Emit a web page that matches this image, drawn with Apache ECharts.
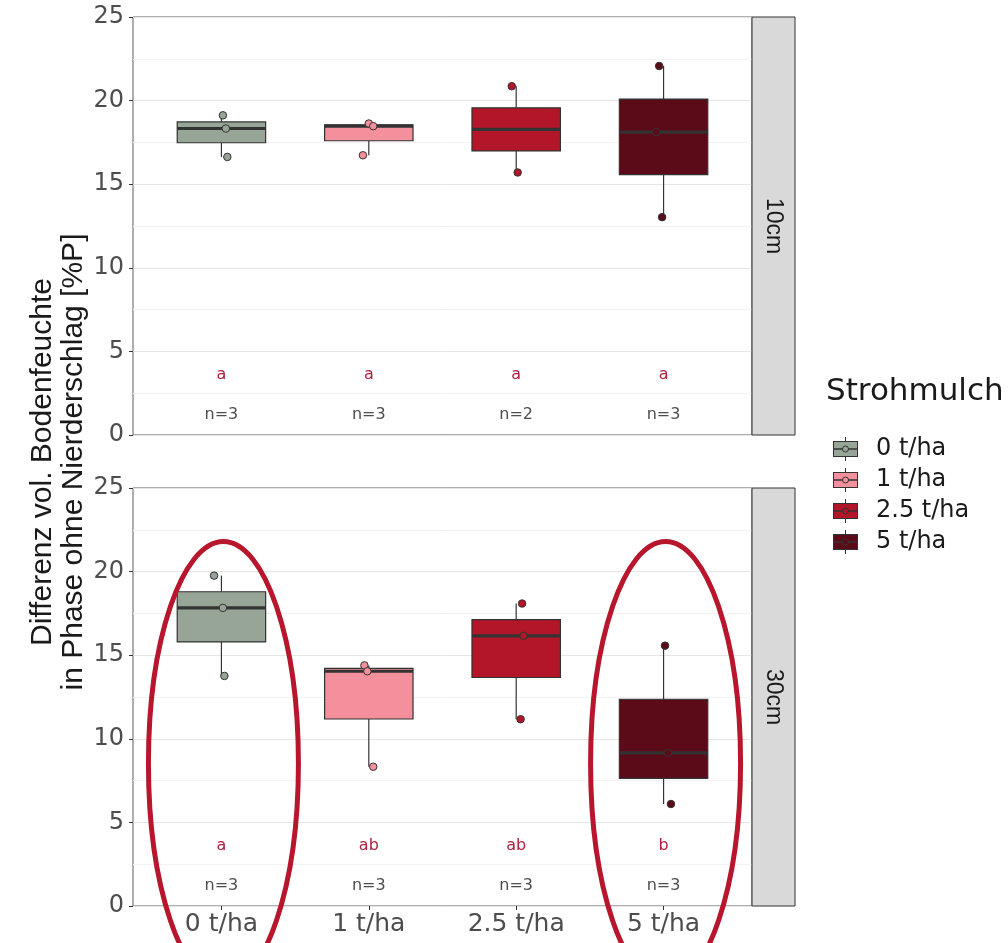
<!DOCTYPE html>
<html>
<head>
<meta charset="utf-8">
<title>Strohmulch Bodenfeuchte</title>
<script src="https://cdn.jsdelivr.net/npm/echarts@6/dist/echarts.min.js"></script>
<style>
html, body { margin: 0; padding: 0; background: #fff; }
#chart { width: 1008px; height: 943px; }
</style>
</head>
<body>
<div id="chart"></div>
<script>
// Varianten Strohmulch
var categories = ['0 t/ha', '1 t/ha', '2.5 t/ha', '5 t/ha'];
var colors = ['#97a596', '#f3909c', '#b31529', '#5b0b17'];
var depths = ['10cm', '30cm'];

// Einzelwerte je Variante (Differenz vol. Bodenfeuchte, %P) - 10 cm
var vals10 = [
    [19.12, 18.33, 16.63],
    [18.63, 18.47, 16.73],
    [20.86, 15.70],
    [22.07, 18.11, 13.03]
];
// 30 cm
var vals30 = [
    [19.76, 17.83, 13.76],
    [14.39, 14.04, 8.33],
    [18.09, 16.16, 11.17],
    [15.57, 9.16, 6.10]
];
// Jitter der Punkte (in Kategorie-Einheiten)
var jitter10 = [[0.01, 0.03, 0.04], [0.0, 0.03, -0.04], [-0.03, 0.01], [-0.03, -0.05, -0.01]];
var jitter30 = [[-0.05, 0.01, 0.02], [-0.03, -0.01, 0.03], [0.04, 0.05, 0.03], [0.01, 0.03, 0.05]];
// Signifikanzbuchstaben
var letters10 = ['a', 'a', 'a', 'a'];
var letters30 = ['a', 'ab', 'ab', 'b'];
// markierte Varianten (rote Ellipsen im unteren Panel)
var marked = [0, 3];

var panels = [
    { vals: vals10, jit: jitter10, letters: letters10 },
    { vals: vals30, jit: jitter30, letters: letters30 }
];

function quantile(arr, p) {
    var s = arr.slice().sort(function (a, b) { return a - b; });
    var h = (s.length - 1) * p;
    var lo = Math.floor(h);
    var nx = lo + 1 < s.length ? s[lo + 1] : s[lo];
    return s[lo] + (h - lo) * (nx - s[lo]);
}

function keyIcon(c) {
    var svg = '<svg xmlns="http://www.w3.org/2000/svg" width="38" height="24">' +
        '<line x1="12.5" y1="0" x2="12.5" y2="24" stroke="#333" stroke-width="1"/>' +
        '<rect x="0.5" y="4.5" width="24" height="15" fill="' + c + '" stroke="#333" stroke-width="1"/>' +
        '<line x1="0.5" y1="12" x2="24.5" y2="12" stroke="#333" stroke-width="1.5"/>' +
        '<circle cx="12.5" cy="12" r="3" fill="' + c + '" stroke="#333" stroke-width="1"/>' +
        '</svg>';
    return 'image://data:image/svg+xml;charset=utf-8,' + encodeURIComponent(svg);
}

function renderBox(params, api) {
    var x = api.value(0);
    var lo = api.coord([x, api.value(1)]);
    var q1 = api.coord([x, api.value(2)]);
    var md = api.coord([x, api.value(3)]);
    var q3 = api.coord([x, api.value(4)]);
    var hi = api.coord([x, api.value(5)]);
    var w = api.size([0.6, 0])[0];
    var fill = api.visual('color');
    var cx = lo[0];
    return {
        type: 'group',
        children: [
            { type: 'line', shape: { x1: cx, y1: hi[1], x2: cx, y2: q3[1] }, style: { stroke: '#333', lineWidth: 1.2 } },
            { type: 'line', shape: { x1: cx, y1: q1[1], x2: cx, y2: lo[1] }, style: { stroke: '#333', lineWidth: 1.2 } },
            { type: 'rect', shape: { x: cx - w / 2, y: q3[1], width: w, height: q1[1] - q3[1] },
              style: { fill: fill, stroke: '#333', lineWidth: 1.2 } },
            { type: 'line', shape: { x1: cx - w / 2, y1: md[1], x2: cx + w / 2, y2: md[1] },
              style: { stroke: '#333', lineWidth: 3.2 } }
        ]
    };
}

var series = [];
panels.forEach(function (pn, p) {
    categories.forEach(function (cat, i) {
        var v = pn.vals[i];
        series.push({
            name: cat,
            type: 'custom',
            xAxisIndex: p,
            yAxisIndex: p,
            itemStyle: { color: colors[i] },
            renderItem: renderBox,
            encode: { x: 0, y: [1, 2, 3, 4, 5] },
            data: [[i + 1, Math.min.apply(null, v), quantile(v, 0.25), quantile(v, 0.5), quantile(v, 0.75), Math.max.apply(null, v)]],
            z: 2
        });
        series.push({
            name: cat,
            type: 'scatter',
            xAxisIndex: p,
            yAxisIndex: p,
            symbolSize: 7.5,
            itemStyle: { color: colors[i], borderColor: '#333', borderWidth: 1, opacity: 1 },
            data: v.map(function (y, k) { return [i + 1 + pn.jit[i][k], y]; }),
            z: 3
        });
    });
    series.push({
        name: 'labels' + p,
        type: 'custom',
        xAxisIndex: p,
        yAxisIndex: p,
        silent: true,
        data: categories.map(function (c, i) { return [i + 1, 0]; }),
        renderItem: function (params, api) {
            var i = params.dataIndex;
            var a = api.coord([i + 1, 3.6]);
            var b = api.coord([i + 1, 1.2]);
            return {
                type: 'group',
                children: [
                    { type: 'text', x: a[0], y: a[1], style: { text: pn.letters[i], fill: '#b0213c',
                        font: '16px "DejaVu Sans"', textAlign: 'center', textVerticalAlign: 'middle' } },
                    { type: 'text', x: b[0], y: b[1], style: { text: 'n=' + pn.vals[i].length, fill: '#4d4d4d',
                        font: '16px "DejaVu Sans"', textAlign: 'center', textVerticalAlign: 'middle' } }
                ]
            };
        },
        z: 4
    });
});

var gridPos = [{ top: 17 }, { top: 488 }];

var chart = echarts.init(document.getElementById('chart'));
chart.setOption({
    animation: false,
    backgroundColor: '#fff',
    textStyle: { fontFamily: 'DejaVu Sans' },
    grid: gridPos.map(function (g) {
        return { left: 133, top: g.top, width: 619, height: 418, show: true,
            borderColor: '#5f5f5f', borderWidth: 1, backgroundColor: 'transparent' };
    }),
    xAxis: [0, 1].map(function (p) {
        return {
            type: 'value', gridIndex: p, min: 0.4, max: 4.6,
            axisLine: { show: false },
            axisTick: { show: p === 1, customValues: [1, 2, 3, 4], length: 4, lineStyle: { color: '#333' } },
            axisLabel: { show: p === 1, customValues: [1, 2, 3, 4], fontSize: 25, color: '#4d4d4d', margin: 6,
                formatter: function (v) { return categories[Math.round(v) - 1]; } },
            splitLine: { show: false }
        };
    }),
    yAxis: [0, 1].map(function (p) {
        return {
            type: 'value', gridIndex: p, min: 0, max: 25, interval: 5,
            axisLine: { show: false },
            axisTick: { show: true, length: 4, lineStyle: { color: '#333' } },
            axisLabel: { fontSize: 24, color: '#4d4d4d', margin: 9 },
            splitLine: { lineStyle: { color: '#e6e6e6', width: 1 } },
            minorTick: { show: false, splitNumber: 2 },
            minorSplitLine: { show: true, lineStyle: { color: '#f2f2f2', width: 1 } }
        };
    }),
    legend: {
        orient: 'vertical',
        left: 828,
        top: 432,
        itemWidth: 38,
        itemHeight: 24,
        itemGap: 7,
        textStyle: { fontSize: 24, color: '#1a1a1a', fontFamily: 'DejaVu Sans' },
        data: categories.map(function (c, i) { return { name: c, icon: keyIcon(colors[i]) }; })
    },
    series: series
});

// Streifen, Achsentitel, Legendentitel und Ellipsen
var graphics = [];
[0, 1].forEach(function (p) {
    var top = gridPos[p].top;
    graphics.push({ type: 'rect', shape: { x: 752, y: top, width: 43, height: 418 },
        style: { fill: '#d9d9d9', stroke: '#333', lineWidth: 1 }, z: 10 });
    graphics.push({ type: 'text', x: 773.5, y: top + 209, rotation: -Math.PI / 2,
        style: { text: depths[p], font: '23px "Liberation Sans"', fill: '#1a1a1a',
            textAlign: 'center', textVerticalAlign: 'middle' }, z: 11 });
});
graphics.push({ type: 'text', x: 58, y: 462, rotation: Math.PI / 2,
    style: { text: 'Differenz vol. Bodenfeuchte\nin Phase ohne Nierderschlag [%P]',
        font: '30px "Liberation Sans"', lineHeight: 31, fill: '#1a1a1a',
        textAlign: 'center', textVerticalAlign: 'middle' } });
graphics.push({ type: 'text', x: 826, y: 392,
    style: { text: 'Strohmulch', font: '31px "DejaVu Sans"', fill: '#1a1a1a',
        textAlign: 'left', textVerticalAlign: 'middle' } });
marked.forEach(function (i) {
    var c = chart.convertToPixel({ xAxisIndex: 1, yAxisIndex: 1 }, [i + 1, 21.8]);
    var ry = 222;
    graphics.push({ type: 'ellipse', shape: { cx: c[0] + 2, cy: c[1] + ry, rx: 75, ry: ry },
        style: { fill: 'none', stroke: '#b8162c', lineWidth: 5 }, z: 100 });
});
chart.setOption({ graphic: graphics });
</script>
</body>
</html>
